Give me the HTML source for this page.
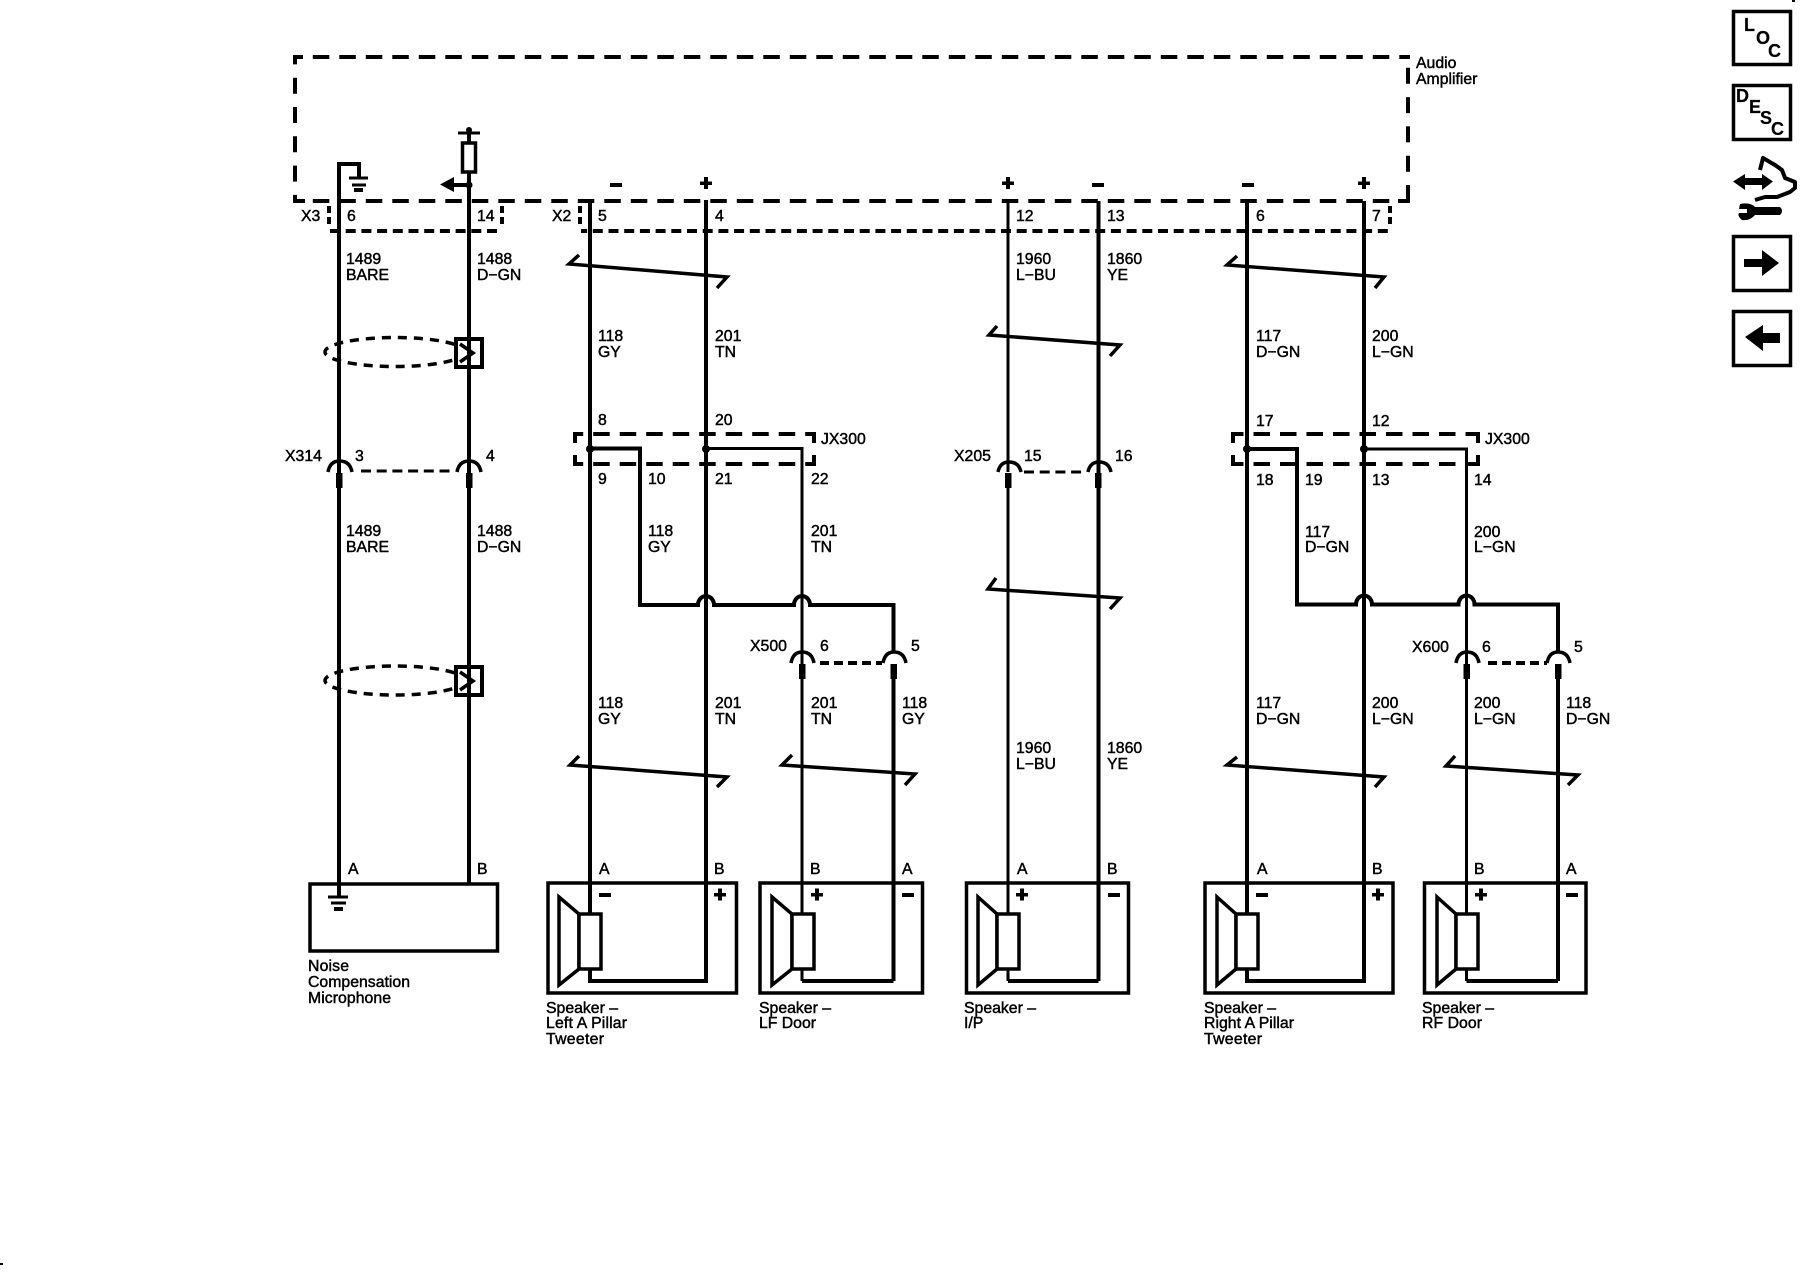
<!DOCTYPE html>
<html><head><meta charset="utf-8"><style>
html,body{margin:0;padding:0;background:#fff;width:1800px;height:1280px;overflow:hidden}
svg{display:block}
text{font-family:"Liberation Sans",sans-serif;font-size:15.8px;fill:#000;stroke:#000;stroke-width:.45}
.i{font-size:18px;font-weight:bold;stroke-width:.2}
.w3,.w4,.b,.d,.s,.k,.h{fill:none;stroke:#000}
.w3{stroke-width:3}.w4{stroke-width:4}.b{stroke-width:3.5}
.d{stroke-width:4;stroke-dasharray:16.5 10}.s{stroke-width:4;stroke-dasharray:10 5.7}
.k{stroke-width:3.5}.h{stroke-width:3}
</style></head><body>
<svg width="1800" height="1280" viewBox="0 0 1800 1280" xmlns="http://www.w3.org/2000/svg">
<rect width="1800" height="1280" fill="#fff"/>

<!-- amplifier dashed -->
<path class="d" stroke-dashoffset="8.7" d="M295,57 H1408"/>
<path class="d" stroke-dashoffset="8.7" d="M295,201 H1408"/>
<path class="d" style="stroke-dasharray:16 13.3" stroke-dashoffset="8.6" d="M295,57 V201"/>
<path class="d" style="stroke-dasharray:16 13.3" stroke-dashoffset="0" d="M1408,201 V57"/>
<path class="w4" d="M293,57 H303 M293,201 H305 M1398,201 H1410 M1400,57 H1410"/>
<path class="s" style="stroke-dasharray:7 4" d="M329,206 V226 M502,206 V226 M580,206 V226 M1390,206 V226"/>
<path class="s" d="M330,231 H502"/>
<path class="s" stroke-dashoffset="3.900" d="M581,231 H1390"/>
<text x="1416" y="68">Audio</text><text x="1416" y="84">Amplifier</text>

<!-- ground + fuse at top -->
<path class="w4" d="M339,460 V164 H359 V178"/>
<path class="w3" d="M349,178 H368 M352,185 H366"/>
<path d="M354,188 h9 v4 h-9z"/>
<path class="w4" d="M469,133 V460"/>
<path class="w3" d="M458,133 H480"/>
<circle cx="469" cy="130" r="3"/>
<rect x="462.500" y="143" width="13" height="29" fill="#fff" stroke="#000" stroke-width="3.500"/>
<path class="w4" d="M454,185 H469"/>
<path d="M440,184.500 L454,177 V192z"/><circle cx="469" cy="185" r="3.500"/>

<!-- shields -->
<ellipse cx="395" cy="352" rx="70" ry="14.500" fill="none" stroke="#000" stroke-width="3.500" stroke-dasharray="9 7"/>
<rect x="456" y="339" width="26" height="28" fill="#fff" stroke="#000" stroke-width="4"/>
<path class="k" stroke-width="4" d="M460,344 L473,353 L460,362"/>
<ellipse cx="395" cy="680.500" rx="70" ry="14.500" fill="none" stroke="#000" stroke-width="3.500" stroke-dasharray="9 7"/>
<rect x="456" y="667" width="26" height="28" fill="#fff" stroke="#000" stroke-width="4"/>
<path class="k" d="M460,672 L473,681 L460,690"/>
<path class="w4" d="M339,164 V896 M469,172 V884"/>

<!-- main wires -->
<path class="w4" d="M590,200 V981 H706 V200"/>
<path class="w3" d="M1008,201 V472 M1008,487 V981"/>
<path class="w4" d="M1008,981 H1098.500"/>
<path class="w4" d="M1098.500,201 V981"/>
<path class="w4" d="M1247,201 V981 H1364 V201"/>

<!-- JX300 left -->
<path class="d" stroke-dashoffset="8.300" d="M575,434 H815"/>
<path class="d" stroke-dashoffset="8.300" d="M575,464 H815"/>
<path class="w4" d="M583,434 H575 V443 M575,455 V464 H583 M806,434 H814 V443 M814,455 V464 H806"/>
<path class="w4" d="M590,448.500 H640 V605 H698 a8,9 0 0 1 16,0 H794 a8,9 0 0 1 16,0 H893.500 V652"/>
<path class="w3" d="M706,448.500 H802 V981"/>
<path class="w4" d="M802,981 H893.500"/>
<path class="w4" d="M893.500,678 V981"/>
<circle cx="590" cy="449" r="4"/><circle cx="706" cy="449" r="4"/>
<text x="821" y="444">JX300</text>

<!-- JX300 right -->
<path class="d" stroke-dashoffset="6" d="M1233,434 H1478"/>
<path class="d" stroke-dashoffset="6" d="M1233,464 H1478"/>
<path class="w4" d="M1241,434 H1233 V443 M1233,455 V464 H1241 M1470,434 H1478 V443 M1478,455 V464 H1470"/>
<path class="w4" d="M1247,449 H1297 V604.500 H1356 a8,9 0 0 1 16,0 H1458.500 a8,9 0 0 1 16,0 H1558 V652"/>
<path class="w3" d="M1364,449 H1466.500 V981"/>
<path class="w4" d="M1466.500,981 H1558"/>
<path class="w4" d="M1558,678 V981"/>
<circle cx="1247" cy="449" r="4"/><circle cx="1364" cy="449" r="4"/>
<text x="1485" y="444">JX300</text>

<!-- inline connectors -->
<g>
<path class="k" stroke-width="4" d="M328,472 Q330,461 339.500,461 Q350,461 352,472 M457,472 Q459,461 469,461 Q479,461 481,472 M998,472 Q1000,462 1009,462 Q1019,462 1021,472 M1088,472 Q1090,462 1099,462 Q1109,462 1111,472 M791,663 Q793,652 802,652 Q812,652 814,663 M883,663 Q885,652 894,652 Q904,652 906,663 M1456,663 Q1458,652 1467,652 Q1477,652 1479,663 M1547,663 Q1549,652 1558,652 Q1568,652 1570,663"/>
<path class="s" style="stroke-width:3" d="M361,471 H452 M1024,472 H1086"/>
<path class="s" style="stroke-dasharray:9 5" d="M820,663 H882 M1488,663 H1547"/>
<path d="M336,473h6.500v15h-6.500z M466,473h6.500v15h-6.500z M1005,473h6.500v15h-6.500z M1095,473h6.500v15h-6.500z M799,664h6.500v15h-6.500z M890.500,664h6.500v15h-6.500z M1463.500,664h6.500v15h-6.500z M1555,664h6.500v15h-6.500z"/>
<path class="w4" d="M339,487 V896"/>
</g>

<!-- tick (twisted pair) marks -->
<path class="k" d="M579,255 L569,264 L727,277 L717,288"/>
<path class="k" d="M997,326 L989,335 L1120,345 L1110,356"/>
<path class="k" d="M996,578 L988,589 L1120,598 L1110,609"/>
<path class="k" d="M1237,256 L1227,265 L1384,277 L1375,288"/>
<path class="k" d="M579,756 L570,765 L727,777 L717,787"/>
<path class="k" d="M792,755 L782,765 L915,774 L905,785"/>
<path class="k" d="M1237,757 L1227,765 L1384,777 L1375,787"/>
<path class="k" d="M1455,756 L1446,766 L1578,775 L1568,785"/>

<!-- component boxes -->
<rect class="b" x="310" y="884" width="187.500" height="67"/>
<rect class="b" x="548" y="883" width="188.500" height="110"/>
<rect class="b" x="760" y="883" width="162.500" height="110"/>
<rect class="b" x="966.500" y="883" width="162" height="110"/>
<rect class="b" x="1205" y="883" width="188" height="110"/>
<rect class="b" x="1424.500" y="883" width="161.500" height="110"/>

<!-- ground in mic -->
<path class="w3" d="M328,897 H348 M331,903 H346"/>
<path d="M334,907h9v4h-9z"/>

<!-- speakers -->
<g fill="#fff" stroke="#000" stroke-width="3.500">
<path d="M559,897 L579,914 V969 L559,985z"/><rect x="579" y="914" width="22" height="55"/>
<path d="M772,897 L792,914 V969 L772,985z"/><rect x="792" y="914" width="22" height="55"/>
<path d="M978,897 L997,914 V969 L978,985z"/><rect x="997" y="914" width="22" height="55"/>
<path d="M1217,897 L1236,914 V969 L1217,985z"/><rect x="1236" y="914" width="22" height="55"/>
<path d="M1437,897 L1456,914 V969 L1437,985z"/><rect x="1456" y="914" width="22" height="55"/>
</g>

<!-- polarity marks -->
<g fill="#000">
<rect x="610" y="183" width="12" height="4"/>
<path d="M700,181.500h12v3.500h-12z M704,177h4v12h-4z"/>
<path d="M1002,181.500h12v3.500h-12z M1006,177h4v12h-4z"/>
<rect x="1092" y="183" width="12" height="4"/>
<rect x="1242" y="183" width="12" height="4"/>
<path d="M1358,181.500h12v3.500h-12z M1362,177h4v12h-4z"/>
<rect x="599" y="893" width="12" height="4"/>
<path d="M714,893h12v3.500h-12z M718,888.500h4v12h-4z"/>
<path d="M811,893h12v3.500h-12z M815,888.500h4v12h-4z"/>
<rect x="902" y="893" width="12" height="4"/>
<path d="M1016,893h12v3.500h-12z M1020,888.500h4v12h-4z"/>
<rect x="1108" y="893" width="12" height="4"/>
<rect x="1256" y="893" width="12" height="4"/>
<path d="M1372,893h12v3.500h-12z M1376,888.500h4v12h-4z"/>
<path d="M1475,893h12v3.500h-12z M1479,888.500h4v12h-4z"/>
<rect x="1566" y="893" width="12" height="4"/>
</g>

<!-- connector row labels -->
<text x="301" y="221">X3</text><text x="347" y="221">6</text><text x="477" y="221">14</text>
<text x="552" y="221">X2</text><text x="598" y="221">5</text><text x="715" y="221">4</text>
<text x="1016" y="221">12</text><text x="1107" y="221">13</text><text x="1256" y="221">6</text><text x="1372" y="221">7</text>

<!-- wire labels upper -->
<text x="346" y="264">1489</text><text x="346" y="280">BARE</text>
<text x="477" y="264">1488</text><text x="477" y="280">D−GN</text>
<text x="1016" y="264">1960</text><text x="1016" y="280">L−BU</text>
<text x="1107" y="264">1860</text><text x="1107" y="280">YE</text>
<text x="598" y="341">118</text><text x="598" y="357">GY</text>
<text x="715" y="341">201</text><text x="715" y="357">TN</text>
<text x="1256" y="341">117</text><text x="1256" y="357">D−GN</text>
<text x="1372" y="341">200</text><text x="1372" y="357">L−GN</text>

<!-- pin labels -->
<text x="598" y="425">8</text><text x="715" y="425">20</text>
<text x="1256" y="426">17</text><text x="1372" y="426">12</text>
<text x="598" y="484">9</text><text x="648" y="484">10</text><text x="715" y="484">21</text><text x="811" y="484">22</text>
<text x="1256" y="485">18</text><text x="1305" y="485">19</text><text x="1372" y="485">13</text><text x="1474" y="485">14</text>
<text x="285" y="461">X314</text><text x="355" y="461">3</text><text x="486" y="461">4</text>
<text x="954" y="461">X205</text><text x="1024" y="461">15</text><text x="1115" y="461">16</text>

<!-- mid labels -->
<text x="346" y="536">1489</text><text x="346" y="552">BARE</text>
<text x="477" y="536">1488</text><text x="477" y="552">D−GN</text>
<text x="648" y="536">118</text><text x="648" y="552">GY</text>
<text x="811" y="536">201</text><text x="811" y="552">TN</text>
<text x="1305" y="537">117</text><text x="1305" y="552">D−GN</text>
<text x="1474" y="537">200</text><text x="1474" y="552">L−GN</text>

<text x="750" y="651">X500</text><text x="820" y="651">6</text><text x="911" y="651">5</text>
<text x="1412" y="652">X600</text><text x="1482" y="652">6</text><text x="1574" y="652">5</text>

<!-- lower labels -->
<text x="598" y="708">118</text><text x="598" y="724">GY</text>
<text x="715" y="708">201</text><text x="715" y="724">TN</text>
<text x="811" y="708">201</text><text x="811" y="724">TN</text>
<text x="902" y="708">118</text><text x="902" y="724">GY</text>
<text x="1256" y="708">117</text><text x="1256" y="724">D−GN</text>
<text x="1372" y="708">200</text><text x="1372" y="724">L−GN</text>
<text x="1474" y="708">200</text><text x="1474" y="724">L−GN</text>
<text x="1566" y="708">118</text><text x="1566" y="724">D−GN</text>
<text x="1016" y="753">1960</text><text x="1016" y="769">L−BU</text>
<text x="1107" y="753">1860</text><text x="1107" y="769">YE</text>

<!-- terminals -->
<text x="348" y="874">A</text><text x="477" y="874">B</text>
<text x="599" y="874">A</text><text x="714" y="874">B</text>
<text x="810" y="874">B</text><text x="902" y="874">A</text>
<text x="1017" y="874">A</text><text x="1107" y="874">B</text>
<text x="1257" y="874">A</text><text x="1372" y="874">B</text>
<text x="1474" y="874">B</text><text x="1566" y="874">A</text>

<!-- captions -->
<text x="308" y="971" textLength="41">Noise</text><text x="308" y="987" textLength="102">Compensation</text><text x="308" y="1003" textLength="83">Microphone</text>
<text x="546" y="1013" textLength="72">Speaker –</text><text x="546" y="1028" textLength="81">Left A Pillar</text><text x="546" y="1044" textLength="58">Tweeter</text>
<text x="759" y="1013" textLength="72">Speaker –</text><text x="759" y="1028" textLength="57">LF Door</text>
<text x="964" y="1013" textLength="72">Speaker –</text><text x="964" y="1028">I/P</text>
<text x="1204" y="1013" textLength="72">Speaker –</text><text x="1204" y="1028" textLength="90">Right A Pillar</text><text x="1204" y="1044" textLength="58">Tweeter</text>
<text x="1422" y="1013" textLength="72">Speaker –</text><text x="1422" y="1028" textLength="60">RF Door</text>

<!-- side icons -->
<rect x="1733.500" y="11.500" width="57" height="53" fill="none" stroke="#000" stroke-width="3.500"/>
<text class="i" x="1744" y="31">L</text><text class="i" x="1756" y="44">O</text><text class="i" x="1768" y="57">C</text>
<rect x="1733.500" y="85.500" width="57" height="54" fill="none" stroke="#000" stroke-width="3.500"/>
<text class="i" x="1736" y="102">D</text><text class="i" x="1749" y="113">E</text><text class="i" x="1760" y="124">S</text><text class="i" x="1771" y="135">C</text>
<rect x="1733.500" y="236.500" width="57" height="54" fill="none" stroke="#000" stroke-width="3.500"/>
<path d="M1744,259 H1762 V250 L1779,263 L1762,276 V267 H1744z"/>
<rect x="1733.500" y="311.500" width="57" height="54" fill="none" stroke="#000" stroke-width="3.500"/>
<path d="M1745,337 L1763,325 V333 H1780 V343 H1763 V351z"/>
<!-- service icon -->
<path d="M1733,181.500 L1745,174 V178 H1762 V174 L1773,181.500 L1762,190 V185 H1745 V190z"/>
<path fill="none" stroke="#000" stroke-width="4" stroke-linejoin="round" d="M1755,200 L1765,197 L1777,197 L1790,192 L1795,188 L1795,182 L1785,178 L1782,170 L1775,165 L1763,158 L1760,170"/>
<path d="M1740,204 Q1750,202 1755,207 H1780 Q1784,211 1780,215 H1755 Q1750,221 1742,220 Q1737,216 1739,213 L1747,213 L1747,209 L1739,209z"/>
<rect x="0" y="1263" width="3" height="2"/>
<rect x="1792" y="0" width="3" height="2"/>
</svg>
</body></html>
